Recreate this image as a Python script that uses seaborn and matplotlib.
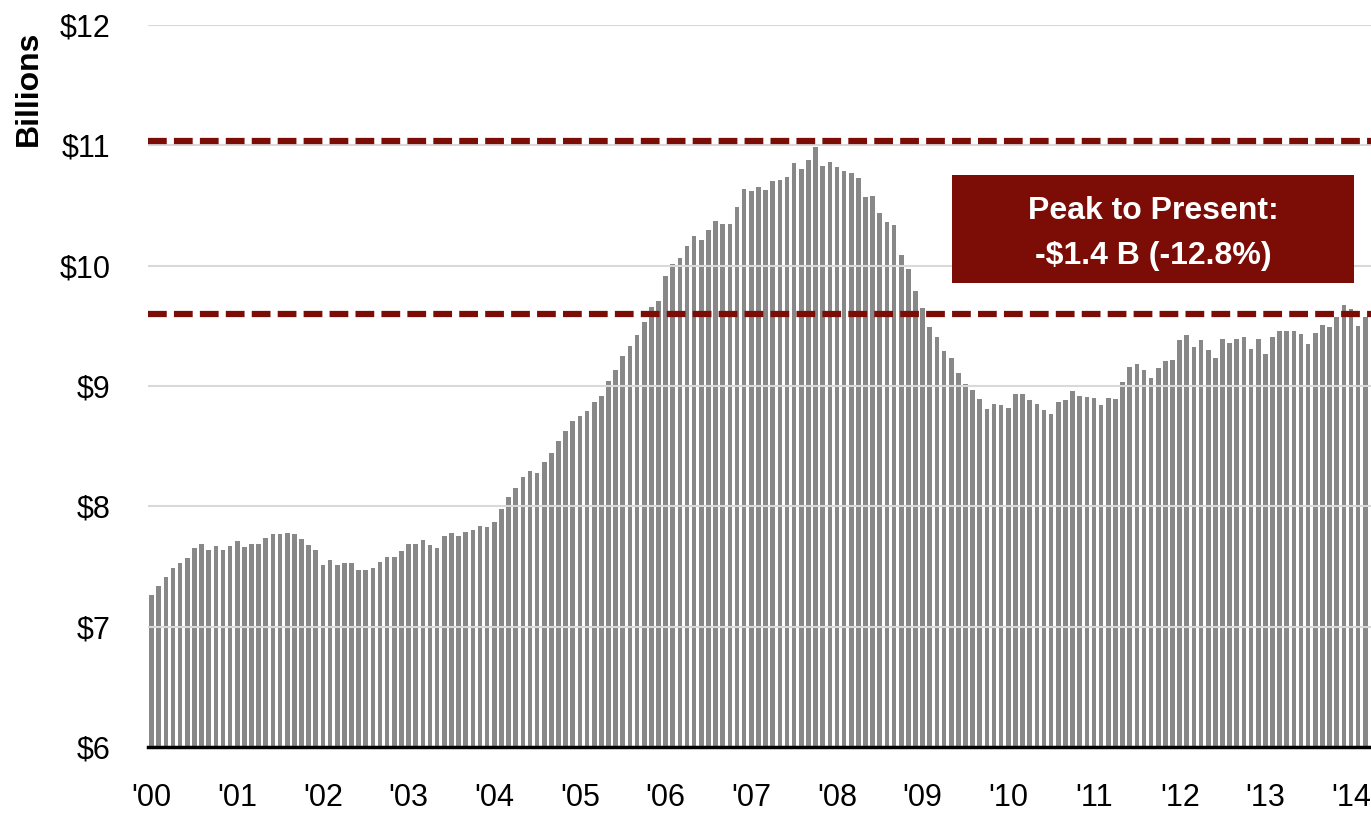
import matplotlib
matplotlib.use("Agg")
import matplotlib.pyplot as plt
from matplotlib import font_manager
from matplotlib.patches import Rectangle
import seaborn as sns
import pandas as pd

# ---- data (billions of dollars, monthly) ----
year_labels = ["'00", "'01", "'02", "'03", "'04", "'05", "'06", "'07",
               "'08", "'09", "'10", "'11", "'12", "'13", "'14"]
v2000 = [7.26, 7.34, 7.41, 7.49, 7.53, 7.57, 7.65, 7.69, 7.64, 7.67, 7.64, 7.67]
v2001 = [7.71, 7.66, 7.69, 7.69, 7.74, 7.77, 7.77, 7.78, 7.77, 7.73, 7.68, 7.64]
v2002 = [7.51, 7.55, 7.51, 7.53, 7.53, 7.47, 7.47, 7.49, 7.54, 7.58, 7.58, 7.63]
v2003 = [7.69, 7.69, 7.72, 7.68, 7.65, 7.75, 7.78, 7.75, 7.79, 7.80, 7.84, 7.83]
v2004 = [7.87, 7.98, 8.08, 8.15, 8.24, 8.29, 8.28, 8.37, 8.44, 8.54, 8.63, 8.71]
v2005 = [8.75, 8.79, 8.87, 8.92, 9.04, 9.13, 9.25, 9.33, 9.42, 9.53, 9.66, 9.71]
v2006 = [9.91, 10.01, 10.06, 10.16, 10.25, 10.21, 10.30, 10.37, 10.35, 10.35, 10.49, 10.64]
v2007 = [10.62, 10.65, 10.63, 10.70, 10.71, 10.74, 10.85, 10.80, 10.88, 10.99, 10.83, 10.86]
v2008 = [10.82, 10.79, 10.77, 10.73, 10.57, 10.58, 10.44, 10.36, 10.34, 10.09, 9.97, 9.79]
v2009 = [9.65, 9.49, 9.41, 9.29, 9.23, 9.11, 9.02, 8.97, 8.89, 8.81, 8.85, 8.84]
v2010 = [8.82, 8.93, 8.93, 8.88, 8.85, 8.80, 8.77, 8.87, 8.88, 8.96, 8.92, 8.91]
v2011 = [8.90, 8.84, 8.90, 8.89, 9.03, 9.16, 9.18, 9.13, 9.07, 9.15, 9.21, 9.22]
v2012 = [9.38, 9.42, 9.32, 9.38, 9.30, 9.23, 9.39, 9.36, 9.39, 9.41, 9.31, 9.39]
v2013 = [9.27, 9.41, 9.46, 9.46, 9.46, 9.43, 9.35, 9.44, 9.51, 9.49, 9.57, 9.67]
v2014 = [9.64, 9.50, 9.57]

peak_value = 11.04
present_value = 9.595
y_ticks = [6, 7, 8, 9, 10, 11, 12]
annotation = "Peak to Present:\n-$1.4 B (-12.8%)"
y_title = "Billions"

years = [v2000, v2001, v2002, v2003, v2004, v2005, v2006, v2007,
         v2008, v2009, v2010, v2011, v2012, v2013, v2014]
values = [v for yr in years for v in yr]
df = pd.DataFrame({"month": range(len(values)), "value": values})

# ---- style ----
sns.set_theme(style="white")
names = {f.name for f in font_manager.fontManager.ttflist}
narrow = "Liberation Sans Narrow" in names
fam = ["Liberation Sans Narrow", "DejaVu Sans"] if narrow else ["Liberation Sans", "DejaVu Sans"]
plt.rcParams["font.family"] = fam
plt.rcParams["text.color"] = "black"

RED = "#7B0C06"
GRAY = "#888888"

fig = plt.figure(figsize=(13.71, 8.13), dpi=100)
ax = fig.add_axes([148 / 1371, 66 / 813, 1223 / 1371, 722 / 813])

sns.barplot(data=df, x="month", y="value", color=GRAY, saturation=1,
            width=0.65, linewidth=0, ax=ax, zorder=2)

ax.set_ylim(6, 12)
ax.set_xlim(-0.5, len(values) - 0.2)

ax.set_yticks(y_ticks)
ax.set_yticklabels([f"${t}" for t in y_ticks])
ax.set_xticks([12 * k for k in range(len(year_labels))])
ax.set_xticklabels(year_labels)
ax.tick_params(axis="both", length=0, labelsize=26 if narrow else 22, colors="black")
ax.tick_params(axis="y", pad=27)
ax.tick_params(axis="x", pad=26)

ax.yaxis.grid(True, color="#D9D9D9", linewidth=1.5, zorder=3)
ax.xaxis.grid(False)
ax.set_axisbelow(False)
for s in ["top", "right", "left"]:
    ax.spines[s].set_visible(False)
ax.spines["bottom"].set_color("black")
ax.spines["bottom"].set_linewidth(2.5)
ax.spines["bottom"].set_zorder(5)

ax.set_xlabel("")
ax.set_ylabel("")

lw = 4.5
for yv in (peak_value, present_value):
    ax.axhline(yv, color=RED, linewidth=lw, linestyle=(0, (3.0, 1.15)), zorder=4)

# annotation box
ax.add_patch(Rectangle((0.657, 0.6427), 0.3295, 0.1496, transform=ax.transAxes,
                       facecolor=RED, edgecolor="none", zorder=6, clip_on=False))
ax.text(0.657 + 0.3295 / 2, 0.6427 + 0.1496 / 2 - 0.006, annotation, transform=ax.transAxes,
        ha="center", va="center", color="white", fontweight="bold",
        fontsize=26 if narrow else 23, linespacing=1.65, zorder=7)

fig.text(29 / 1371, 1 - 88 / 813, y_title, rotation=90, ha="center", va="center",
         fontweight="bold", color="black", fontsize=24 if narrow else 23)

fig.savefig("out.png", dpi=100)
